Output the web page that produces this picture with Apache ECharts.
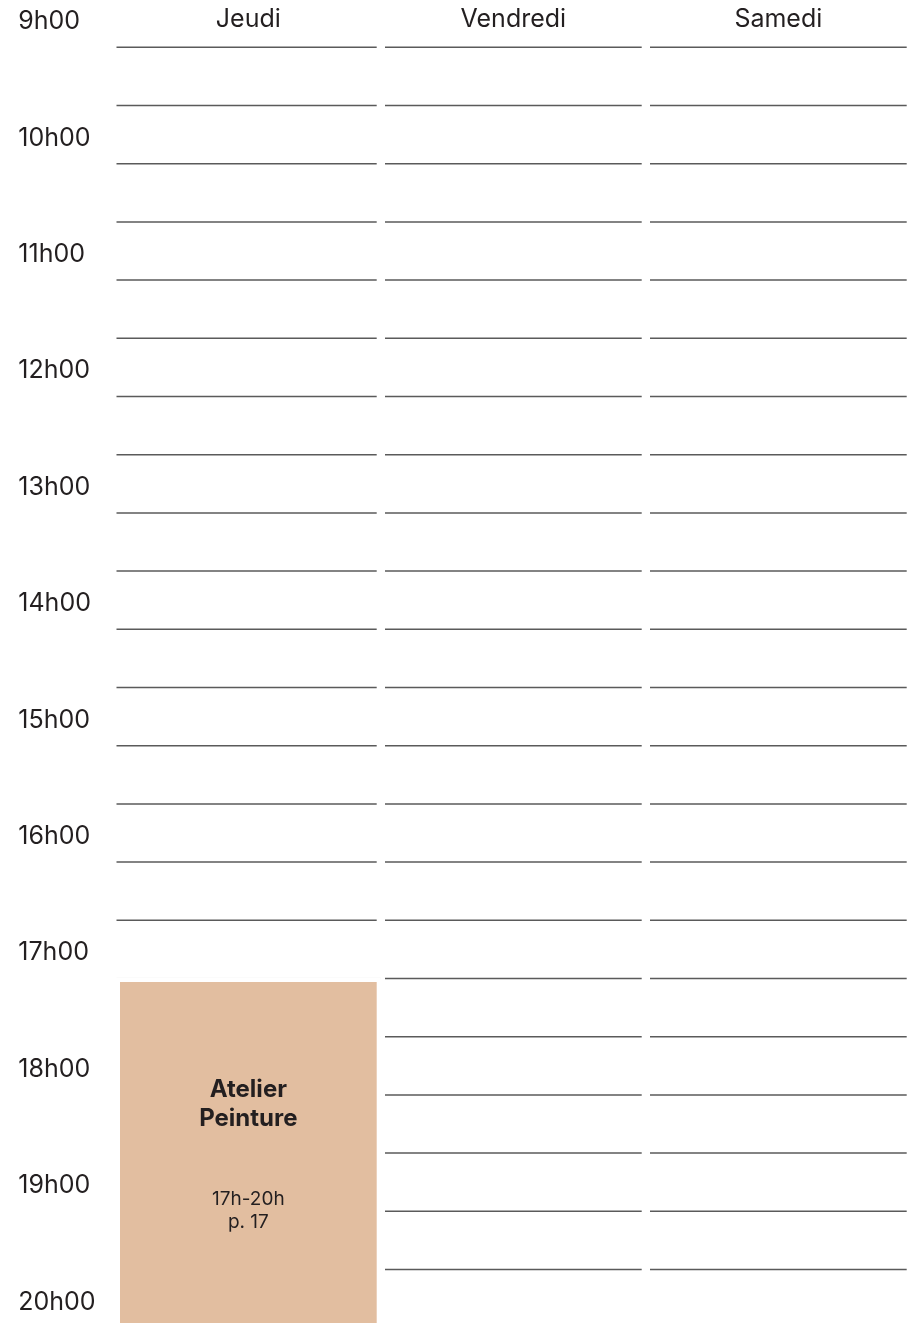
<!DOCTYPE html>
<html>
<head>
<meta charset="utf-8">
<script src="https://cdn.jsdelivr.net/npm/echarts@6/dist/echarts.min.js"></script>
<style>
html,body{margin:0;padding:0;background:#fff;}
#chart{width:915px;height:1325px;}
</style>
</head>
<body>
<div id="chart"></div>
<script>
// ---- Data ----
const days = ['Jeudi', 'Vendredi', 'Samedi'];
const hourLabels = ['9h00','10h00','11h00','12h00','13h00','14h00','15h00','16h00','17h00','18h00','19h00','20h00'];

// half-hour ruled lines (in hours) per day
const jeudiLines = [9.22, 9.72, 10.22, 10.72, 11.22, 11.72, 12.22, 12.72, 13.22, 13.72, 14.22, 14.72, 15.22, 15.72, 16.22, 16.72];
const jeudiHiddenLines = [17.22, 17.72, 18.22, 18.72, 19.22, 19.72];
const vendrediLines = [9.22, 9.72, 10.22, 10.72, 11.22, 11.72, 12.22, 12.72, 13.22, 13.72, 14.22, 14.72, 15.22, 15.72, 16.22, 16.72, 17.22, 17.72, 18.22, 18.72, 19.22, 19.72];
const samediLines = [9.22, 9.72, 10.22, 10.72, 11.22, 11.72, 12.22, 12.72, 13.22, 13.72, 14.22, 14.72, 15.22, 15.72, 16.22, 16.72, 17.22, 17.72, 18.22, 18.72, 19.22, 19.72];

// events
const eventDays = ['Jeudi'];
const eventStarts = [17.25];
const eventEnds = [20.18];
const eventTitles = ['Atelier\nPeinture'];
const eventTimes = ['17h-20h'];
const eventPages = ['p. 17'];

// ---- Build ----
const FONT = 'Inter';
const TEXT = '#231f20';
const LINE = '#5a5a5a';
const GAP = 8.3;

function lineData(day, arr) { return arr.map(v => [days.indexOf(day), v]); }

function makeLineRender(stroke, insetL, extendR) {
  return function (params, api) {
    const idx = api.value(0), v = api.value(1);
    const bw = api.size([1, 0])[0];
    const p = api.coord([idx, v]);
    const right = p[0] + bw / 2;
    const left = right - bw + (idx === 0 ? insetL : GAP);
    return {
      type: 'line',
      shape: { x1: left, y1: p[1], x2: right + extendR, y2: p[1] },
      style: { stroke: stroke, lineWidth: 1.5 }
    };
  };
}

const eventData = eventDays.map((d, i) => [days.indexOf(d), eventStarts[i], eventEnds[i], i]);

const option = {
  animation: false,
  backgroundColor: '#ffffff',
  grid: { left: 111.7, right: 8.3, top: 21.7, bottom: 22.9 },
  xAxis: {
    type: 'category',
    position: 'top',
    data: days,
    axisLine: { show: false },
    axisTick: { show: false },
    splitLine: { show: false },
    axisLabel: {
      margin: 2,
      verticalAlign: 'middle',
      padding: [0, 0, 0, 8.3],
      fontFamily: FONT, fontSize: 25, color: TEXT
    }
  },
  yAxis: {
    type: 'value',
    inverse: true,
    min: 9, max: 20, interval: 1,
    axisLine: { show: false },
    axisTick: { show: false },
    splitLine: { show: false },
    axisLabel: {
      align: 'left',
      margin: 93.4,
      verticalAlign: 'middle',
      fontFamily: FONT, fontSize: 25, color: TEXT,
      formatter: v => hourLabels[Math.round(v - 9)]
    }
  },
  series: [
    {
      type: 'custom', name: 'hidden', clip: false, z: 1,
      renderItem: makeLineRender('#efefef', 4.8, 4),
      data: lineData('Jeudi', jeudiHiddenLines)
    },
    {
      type: 'custom', name: 'lines', clip: false, z: 2,
      renderItem: makeLineRender(LINE, 4.8, 0),
      data: lineData('Jeudi', jeudiLines)
        .concat(lineData('Vendredi', vendrediLines))
        .concat(lineData('Samedi', samediLines))
    },
    {
      type: 'custom', name: 'events', clip: false, z: 3,
      renderItem: function (params, api) {
        const idx = api.value(0);
        const i = api.value(3);
        const bw = api.size([1, 0])[0];
        const pTop = api.coord([idx, api.value(1)]);
        const pBot = api.coord([idx, api.value(2)]);
        const right = pTop[0] + bw / 2;
        const left = right - bw + GAP;
        const h = pBot[1] - pTop[1];
        const cx = (left + right) / 2;
        return {
          type: 'group',
          children: [
            { type: 'rect', shape: { x: left - 4, y: pTop[1] - 4, width: right - left + 8, height: h + 8 }, style: { fill: '#ffffff' } },
            { type: 'rect', shape: { x: left, y: pTop[1], width: right - left, height: h }, style: { fill: '#e2bea0' } },
            { type: 'text', style: { text: eventTitles[i], x: cx, y: pTop[1] + h * 0.358, align: 'center', verticalAlign: 'middle', fontFamily: FONT, fontWeight: 'bold', fontSize: 24, lineHeight: 29, fill: TEXT } },
            { type: 'text', style: { text: eventTimes[i] + '\n' + eventPages[i], x: cx, y: pTop[1] + h * 0.67, align: 'center', verticalAlign: 'middle', fontFamily: FONT, fontSize: 19, lineHeight: 23, fill: TEXT } }
          ]
        };
      },
      data: eventData
    }
  ]
};

const chart = echarts.init(document.getElementById('chart'), null, { renderer: 'canvas' });
chart.setOption(option);
</script>
</body>
</html>
